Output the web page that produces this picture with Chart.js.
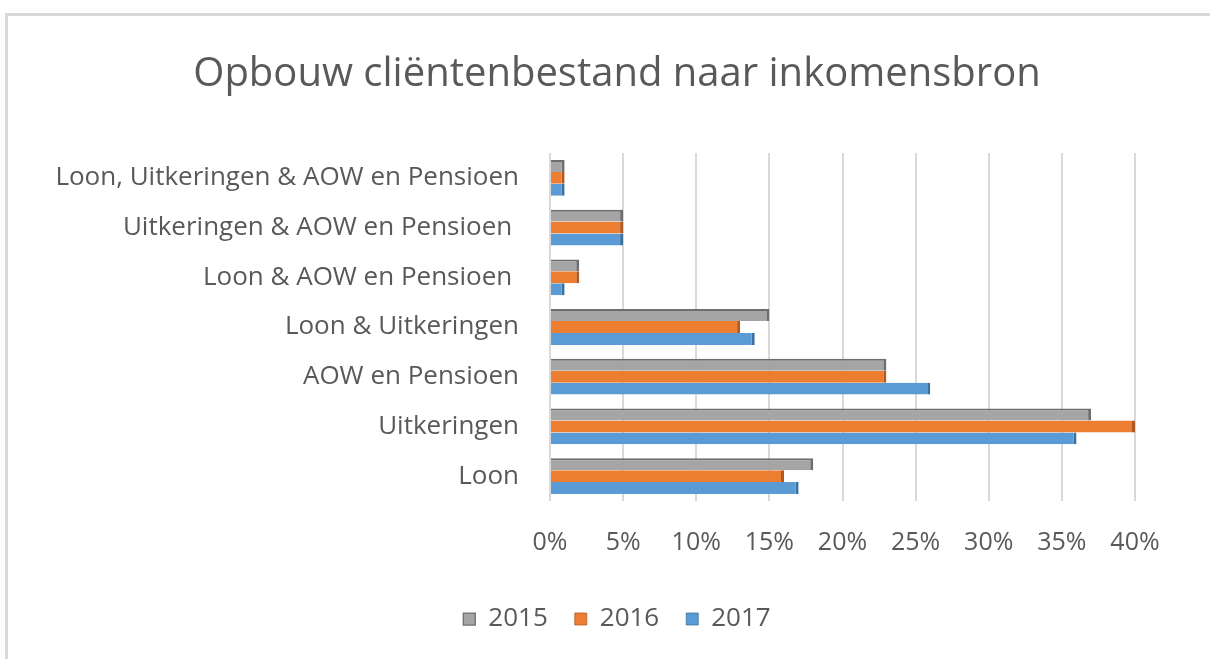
<!DOCTYPE html>
<html>
<head>
<meta charset="utf-8">
<script src="https://cdn.jsdelivr.net/npm/chart.js@4.4.1/dist/chart.umd.min.js"></script>
<style>
  html, body { margin: 0; padding: 0; background: #fff; }
  #wrap { position: absolute; left: 0; top: 0; width: 1210px; height: 659px; }
  #frame { position: absolute; left: 5px; top: 13px; width: 1220px; height: 700px;
           border-top: 3px solid #d9d9d9; border-left: 3px solid #d9d9d9; }
  canvas { position: absolute; left: 0; top: 0; }
</style>
</head>
<body>
<div id="wrap">
  <div id="frame"></div>
  <canvas id="chart" width="1210" height="659"></canvas>
</div>
<script>
  // categories, top to bottom as shown
  const categories = [
    "Loon, Uitkeringen & AOW en Pensioen",
    "Uitkeringen & AOW en Pensioen ",
    "Loon & AOW en Pensioen ",
    "Loon & Uitkeringen",
    "AOW en Pensioen",
    "Uitkeringen",
    "Loon"
  ];
  const years = ["2015", "2016", "2017"];
  const pct2015 = [1, 5, 2, 15, 23, 37, 18];
  const pct2016 = [1, 5, 2, 13, 23, 40, 16];
  const pct2017 = [1, 5, 1, 14, 26, 36, 17];
  const xTicks = [0, 5, 10, 15, 20, 25, 30, 35, 40];

  const textColor = '#595959';
  const font = "'Open Sans', 'Noto Sans', sans-serif";

  const data = {
    labels: categories,
    datasets: [
      { label: years[0], data: pct2015, backgroundColor: '#a5a5a5', borderColor: '#6e6e6e',
        borderWidth: { top: 2, right: 3, bottom: 0, left: 0 }, borderSkipped: false },
      { label: years[1], data: pct2016, backgroundColor: '#ed7d31', borderColor: '#ae5a22',
        borderWidth: { top: 0, right: 3, bottom: 0, left: 0 }, borderSkipped: false },
      { label: years[2], data: pct2017, backgroundColor: '#5b9bd5', borderColor: '#3a6f9e',
        borderWidth: { top: 0, right: 3, bottom: 0, left: 0 }, borderSkipped: false }
    ]
  };

  const config = {
    type: 'bar',
    data: data,
    options: {
      indexAxis: 'y',
      responsive: false,
      animation: false,
      layout: { padding: { left: 40, right: 16, top: 0, bottom: 17 } },
      datasets: { bar: { categoryPercentage: 0.72, barPercentage: 1.0 } },
      plugins: {
        title: {
          display: true,
          text: 'Opbouw cliëntenbestand naar inkomensbron',
          color: textColor,
          font: { family: font, size: 40, weight: 'normal' },
          padding: { top: 51, bottom: 54 }
        },
        legend: {
          position: 'bottom',
          labels: {
            color: textColor,
            font: { family: font, size: 26 },
            boxWidth: 12, boxHeight: 12, padding: 27
          }
        },
        tooltip: { enabled: false }
      },
      scales: {
        x: {
          min: 0, max: 40,
          afterBuildTicks: s => { s.ticks = xTicks.map(v => ({ value: v })); },
          afterFit: s => { s.height = 78; },
          ticks: {
            color: textColor,
            font: { family: font, size: 25 },
            padding: 27,
            callback: v => v + '%'
          },
          grid: { color: '#d9d9d9', lineWidth: 2, drawTicks: false },
          border: { display: false }
        },
        y: {
          afterFit: s => { s.width = 510; },
          ticks: {
            color: textColor,
            font: { family: font, size: 26 },
            padding: 23
          },
          grid: { display: false },
          border: { display: false }
        },
        // empty right-hand spacer so the title sits centred like the original
        y2: {
          position: 'right',
          type: 'linear',
          afterFit: s => { s.width = 59; },
          ticks: { display: false },
          grid: { display: false },
          border: { display: false }
        }
      }
    }
  };
  new Chart(document.getElementById('chart'), config);
</script>
</body>
</html>
